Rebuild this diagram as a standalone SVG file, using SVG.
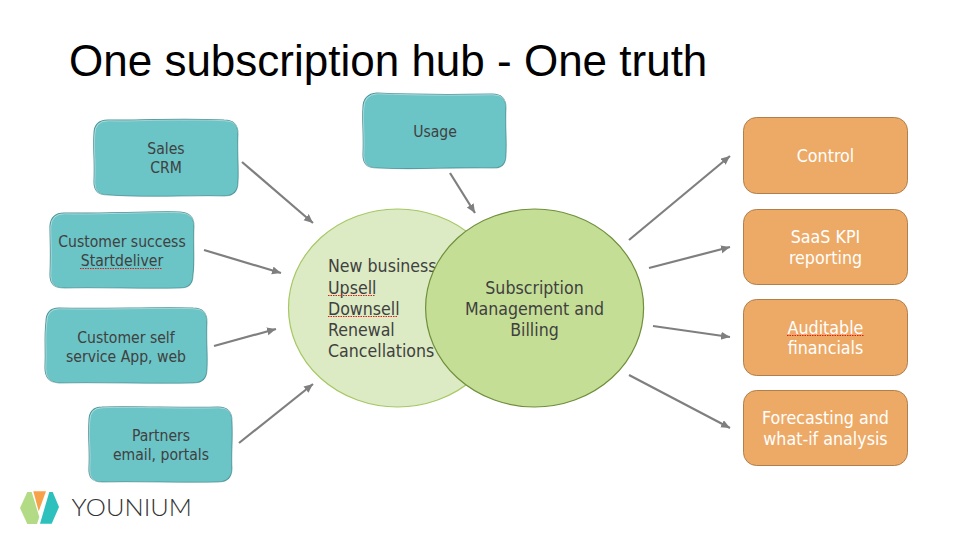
<svg xmlns="http://www.w3.org/2000/svg" width="956" height="536" viewBox="0 0 956 536">
<style>
text{font-family:"DejaVu Sans Condensed","DejaVu Sans",sans-serif;font-stretch:condensed;font-size:15.600px;fill:#404040}
.c{text-anchor:middle}
.w{fill:#fff;font-size:17.700px}
.b{font-size:17.600px}
.teal{fill:#6bc4c6;stroke:#4f9599;stroke-width:1.1}
.hl{fill:none;stroke:#fff;stroke-width:.8;stroke-opacity:.55}
.org{fill:#edaa66;stroke:#b07f4c;stroke-width:1}
.sq{fill:none;stroke:#e01b1b;stroke-width:1;stroke-dasharray:1.5 1}
line{stroke:#7f7f7f;stroke-width:2.2;marker-end:url(#a)}
</style>
<defs>
<marker id="a" markerUnits="userSpaceOnUse" markerWidth="10" markerHeight="10" refX="9" refY="4" orient="auto"><path d="M0 0L9 4L0 8Z" fill="#7f7f7f"/></marker>
<path id="p1" d="M108 120C130 121 170 118 224 120Q238 120 238 134C237 150 239 170 238 182Q238 196 224 196C190 195 150 198 108 195Q94 195 94 182C95 160 93 150 94 134Q94 120 108 120Z"/>
<path id="p2" d="M64 213C100 214 150 211 180 212Q194 213 194 226C193 245 195 260 193 275Q193 288 180 288C140 289 100 287 64 288Q50 288 50 275C51 250 50 240 50 226Q51 213 64 213Z"/>
<path id="p3" d="M59 308C100 309 160 307 193 308Q207 308 207 322C206 340 208 355 207 369Q207 383 193 383C150 384 100 382 59 383Q45 382 45 368C46 345 44 340 46 322Q46 308 59 308Z"/>
<path id="p4" d="M102 407C130 406 190 408 218 407Q232 407 232 421C233 440 231 455 232 468Q232 482 218 482C180 483 140 481 102 482Q88 482 89 468C90 450 88 440 89 421Q89 407 102 407Z"/>
<path id="p5" d="M377 93C400 94 440 95 492 94Q506 94 506 108C505 125 507 140 506 155Q506 169 492 168C450 167 420 170 377 168Q363 168 363 155C364 135 362 120 363 108Q363 94 377 93Z"/>
</defs>
<rect width="956" height="536" fill="#fff"/>
<text id="title" x="69" y="76" style="font-family:'Liberation Sans',Arial,sans-serif;font-stretch:normal;font-size:44px;fill:#000">One subscription hub - One truth</text>
<g id="connectors">
<line x1="242" y1="162" x2="313" y2="223"/>
<line x1="204" y1="250" x2="281" y2="273"/>
<line x1="214" y1="346" x2="276" y2="329"/>
<line x1="239" y1="443" x2="313" y2="384"/>
<line x1="450" y1="173" x2="475" y2="213"/>
<line x1="629" y1="240" x2="730" y2="156"/>
<line x1="649" y1="268" x2="730" y2="247"/>
<line x1="653" y1="326" x2="730" y2="337"/>
<line x1="629" y1="375" x2="730" y2="428"/>
</g>
<g id="sales"><use href="#p1" class="teal"/><use href="#p1" class="hl" x=".7" y=".7"/><text class="c" x="166" y="154">Sales</text><text class="c" x="166" y="173">CRM</text></g>
<g id="success"><use href="#p2" class="teal"/><use href="#p2" class="hl" x=".7" y=".7"/><text class="c" x="122" y="247">Customer success</text><text class="c" x="122" y="266">Startdeliver</text><path class="sq" d="M80 268.500H162"/></g>
<g id="self"><use href="#p3" class="teal"/><use href="#p3" class="hl" x=".7" y=".7"/><text class="c" x="126" y="343">Customer self</text><text class="c" x="126" y="362">service App, web</text></g>
<g id="partners"><use href="#p4" class="teal"/><use href="#p4" class="hl" x=".7" y=".7"/><text class="c" x="161" y="441">Partners</text><text class="c" x="161" y="460">email, portals</text></g>
<g id="usage"><use href="#p5" class="teal"/><use href="#p5" class="hl" x=".7" y=".7"/><text class="c" x="435" y="137">Usage</text></g>
<g id="deals"><ellipse cx="397.500" cy="308" rx="109" ry="99" fill="#dcebc3" stroke="#a5c864" stroke-width="1.2"/>
<text class="b" x="328" y="272">New business</text><text class="b" x="328" y="294">Upsell</text><text class="b" x="328" y="315">Downsell</text><text class="b" x="328" y="336">Renewal</text><text class="b" x="328" y="357">Cancellations</text>
<path class="sq" d="M328 295.500H375M328 316.500H398"/></g>
<g id="hub"><ellipse cx="534.600" cy="308" rx="109" ry="99" fill="#c5de96" stroke="#6f8f3c" stroke-width="1.2"/>
<text class="b c" x="534.500" y="294">Subscription</text><text class="b c" x="534.500" y="315">Management and</text><text class="b c" x="534.500" y="336">Billing</text></g>
<g id="control"><rect class="org" x="743.500" y="117.500" width="164" height="76" rx="13"/><text class="w c" x="825.500" y="162">Control</text></g>
<g id="kpi"><rect class="org" x="743.500" y="209.500" width="164" height="75" rx="13"/><text class="w c" x="825.500" y="243">SaaS KPI</text><text class="w c" x="825.500" y="264">reporting</text></g>
<g id="audit"><rect class="org" x="743.500" y="299.500" width="164" height="76" rx="13"/><text class="w c" x="825.500" y="334">Auditable</text><text class="w c" x="825.500" y="354">financials</text><path class="sq" d="M787 335.500H864"/></g>
<g id="forecast"><rect class="org" x="743.500" y="390.500" width="164" height="75" rx="13"/><text class="w c" x="825.500" y="424">Forecasting and</text><text class="w c" x="825.500" y="445">what-if analysis</text></g>
<g id="logo">
<path d="M20 508L27.300 492H31.700L39.300 517L37 524H27.300Z" fill="#b3db85"/>
<path d="M33.300 491.300H46L38.700 511.300Z" fill="#f7a24b"/>
<path d="M49.300 492H52.700L59 507L51.700 523.700H40Z" fill="#2dc0bd"/>
<text x="71.500" y="516" textLength="120.500" lengthAdjust="spacingAndGlyphs" style="font-family:Lato,'Open Sans',sans-serif;font-stretch:normal;font-weight:300;font-size:24px;fill:#333">YOUNIUM</text>
</g>
</svg>
